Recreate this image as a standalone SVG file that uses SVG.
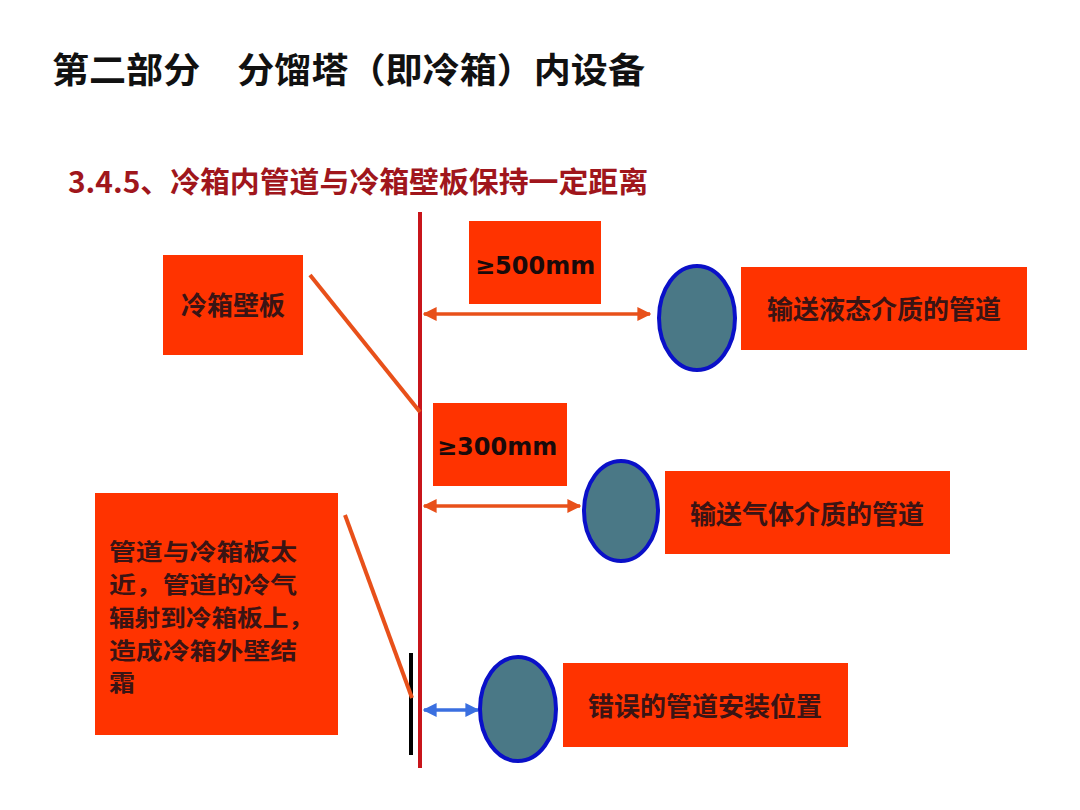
<svg xmlns="http://www.w3.org/2000/svg" width="1080" height="810" viewBox="0 0 1080 810">
<defs>
<style>
.box{fill:#FF3300;}
.lbl{font-family:"Noto Sans CJK SC","Noto Sans",sans-serif;font-weight:bold;font-size:26px;fill:#3a1414;}
.nt{font-family:"Noto Sans CJK SC","Noto Sans",sans-serif;font-weight:bold;font-size:22.5px;fill:#3a1414;}
.mm{font-family:"DejaVu Sans","Liberation Sans",sans-serif;font-weight:bold;font-size:24px;fill:#1a0a0a;}
.pipe{fill:#4A7886;stroke:#0A10C8;stroke-width:4;}
.lead{stroke:#E8501A;stroke-width:4;fill:none;}
.dim{stroke:#E8501A;stroke-width:3.5;fill:none;}
</style>
<marker id="ao" viewBox="0 0 10 10" refX="9" refY="5" markerWidth="4" markerHeight="4" orient="auto-start-reverse"><path d="M0,0 L10,5 L0,10 Z" fill="#E8501A"/></marker>
<marker id="ab" viewBox="0 0 10 10" refX="9" refY="5" markerWidth="4" markerHeight="4" orient="auto-start-reverse"><path d="M0,0 L10,5 L0,10 Z" fill="#3A6FE0"/></marker>
</defs>
<rect width="1080" height="810" fill="#ffffff"/>
<text x="52" y="83" font-family="'Noto Sans CJK SC','Noto Sans',sans-serif" font-weight="bold" font-size="35" fill="#111" textLength="593" lengthAdjust="spacingAndGlyphs">第二部分　分馏塔（即冷箱）内设备</text>
<text x="68" y="193" font-family="'Noto Sans CJK SC','Noto Sans',sans-serif" font-weight="bold" font-size="29" fill="#A0161C" textLength="580" lengthAdjust="spacingAndGlyphs">3.4.5、冷箱内管道与冷箱壁板保持一定距离</text>

<g id="connectors">
<line x1="420" y1="212" x2="420" y2="768" stroke="#C8151B" stroke-width="4"/>
<line x1="411" y1="653" x2="411" y2="755" stroke="#000" stroke-width="4"/>
<line class="lead" x1="310" y1="275" x2="420" y2="412"/>
<line class="lead" x1="345" y1="515" x2="412" y2="698"/>
<line class="dim" x1="424" y1="314" x2="650" y2="314" marker-start="url(#ao)" marker-end="url(#ao)"/>
<line class="dim" x1="424" y1="506" x2="580" y2="506" marker-start="url(#ao)" marker-end="url(#ao)"/>
<line x1="424" y1="710" x2="478" y2="710" stroke="#3A6FE0" stroke-width="3.5" marker-start="url(#ab)" marker-end="url(#ab)"/>
</g>

<g id="wall-label"><rect class="box" x="163" y="255" width="140" height="100"/><text class="lbl" x="233" y="315" text-anchor="middle">冷箱壁板</text></g>
<g id="dim500"><rect class="box" x="469" y="221" width="132" height="83"/><text class="mm" x="475" y="274">≥500mm</text></g>
<g id="pipe1"><ellipse class="pipe" cx="697" cy="318" rx="38" ry="52"/></g>
<g id="liquid-label"><rect class="box" x="741" y="267" width="286" height="83"/><text class="lbl" x="884" y="319" text-anchor="middle">输送液态介质的管道</text></g>
<g id="dim300"><rect class="box" x="433" y="403" width="134" height="83"/><text class="mm" x="437" y="455">≥300mm</text></g>
<g id="pipe2"><ellipse class="pipe" cx="621" cy="511" rx="37" ry="50"/></g>
<g id="gas-label"><rect class="box" x="665" y="471" width="285" height="83"/><text class="lbl" x="807" y="524" text-anchor="middle">输送气体介质的管道</text></g>
<g id="note"><rect class="box" x="95" y="493" width="243" height="242"/>
<text class="nt" x="109" y="560" textLength="188" lengthAdjust="spacingAndGlyphs">管道与冷箱板太</text>
<text class="nt" x="109" y="593" textLength="188" lengthAdjust="spacingAndGlyphs">近，管道的冷气</text>
<text class="nt" x="109" y="626" textLength="205" lengthAdjust="spacingAndGlyphs">辐射到冷箱板上，</text>
<text class="nt" x="109" y="659" textLength="188" lengthAdjust="spacingAndGlyphs">造成冷箱外壁结</text>
<text class="nt" x="109" y="691" textLength="26" lengthAdjust="spacingAndGlyphs">霜</text>
</g>
<g id="pipe3"><ellipse class="pipe" cx="518" cy="709" rx="38" ry="52"/></g>
<g id="wrong-label"><rect class="box" x="563" y="663" width="285" height="84"/><text class="lbl" x="705" y="716" text-anchor="middle">错误的管道安装位置</text></g>
</svg>
